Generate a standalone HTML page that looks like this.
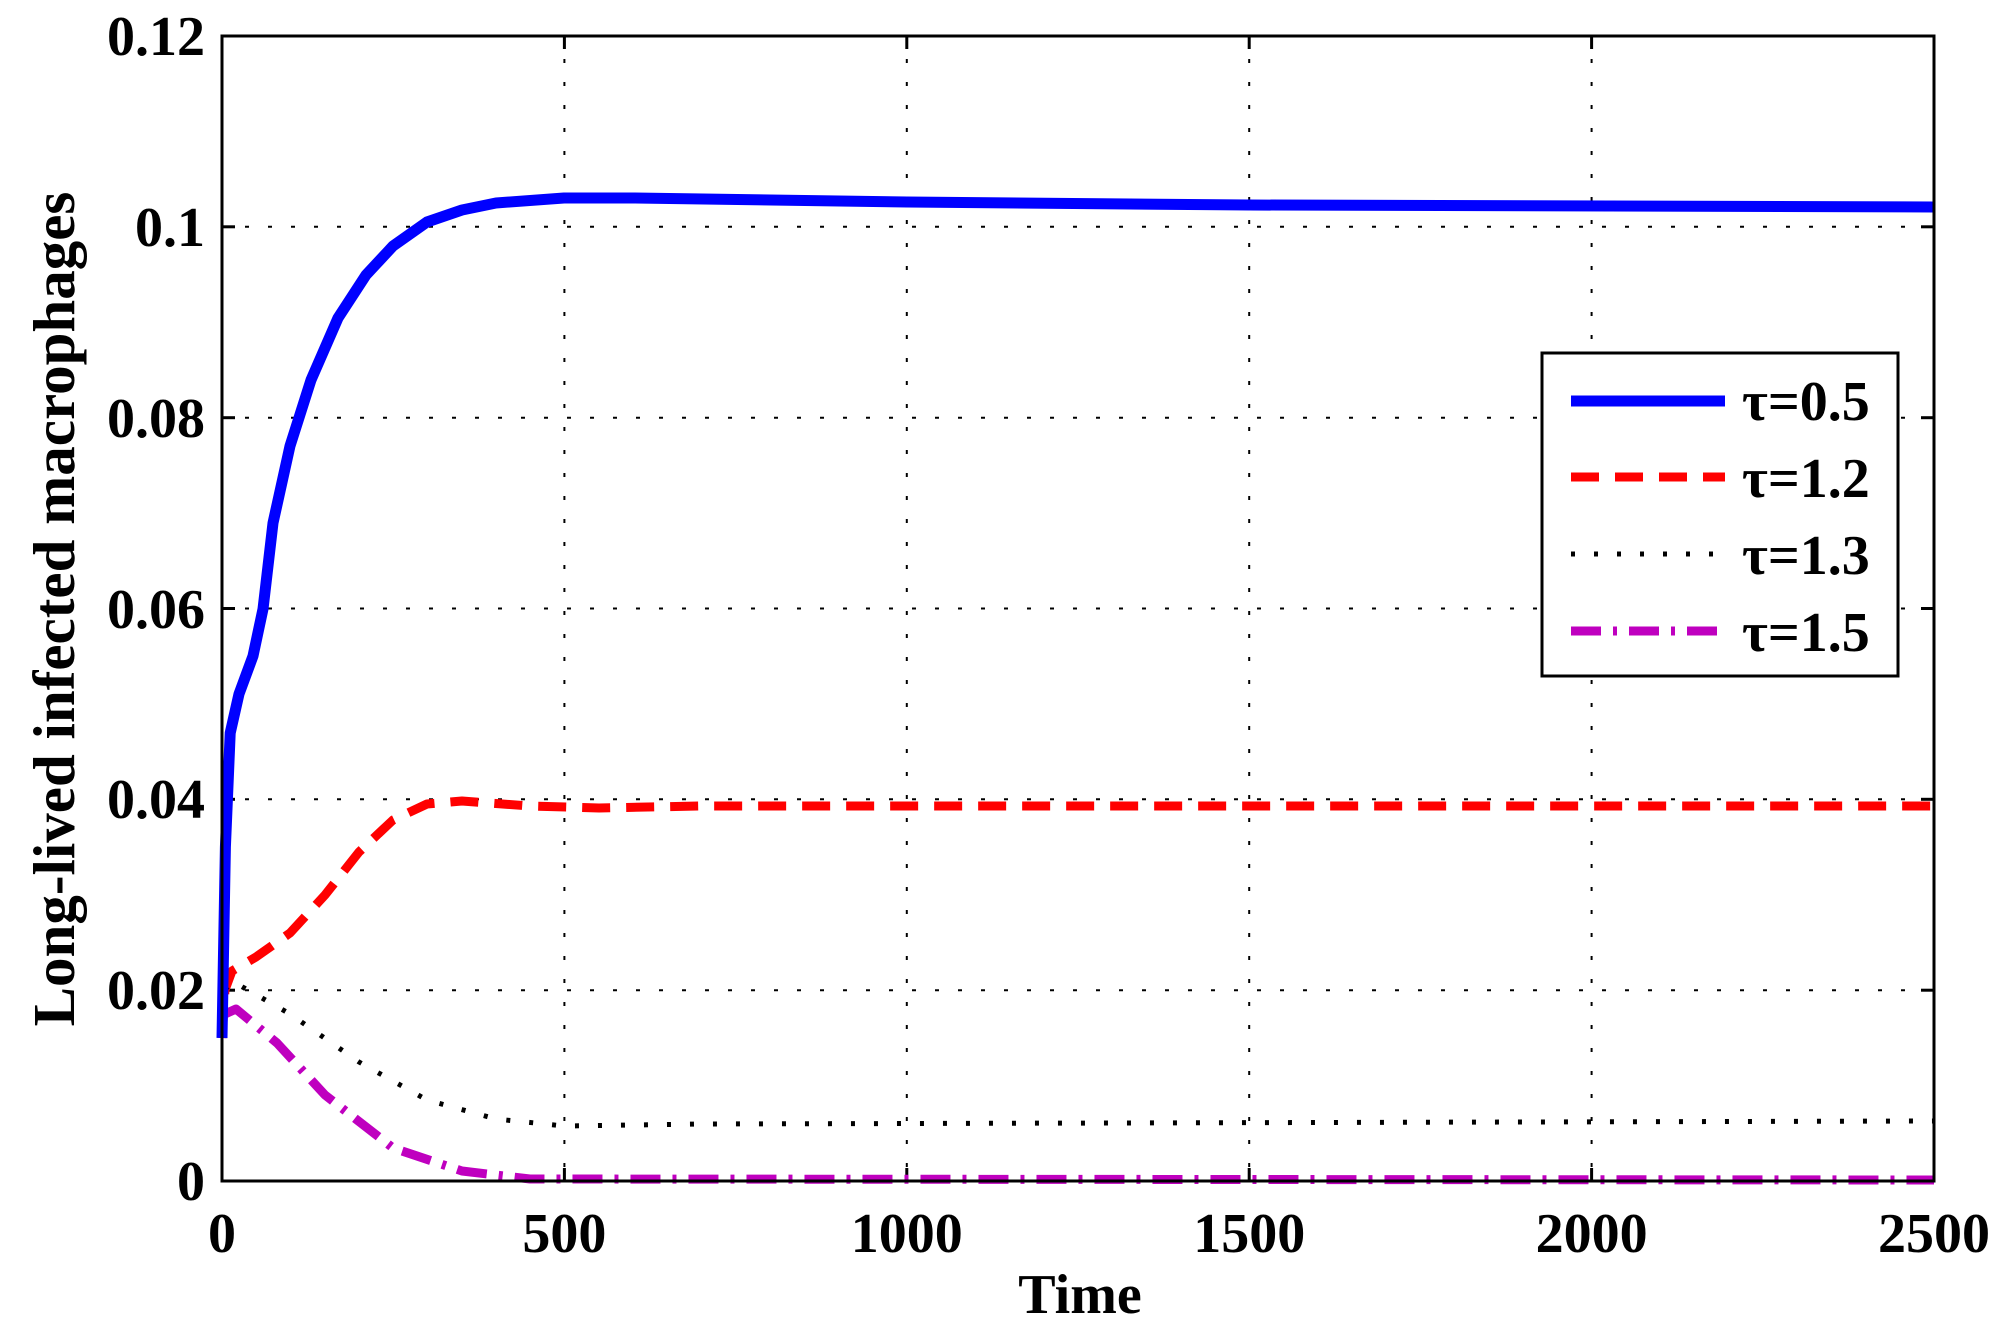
<!DOCTYPE html>
<html><head><meta charset="utf-8"><style>
html,body{margin:0;padding:0;background:#fff;}
svg{display:block;}
text{font-family:"Liberation Serif",serif;font-weight:bold;fill:#000;}
</style></head><body>
<svg width="2011" height="1339" viewBox="0 0 2011 1339" xmlns="http://www.w3.org/2000/svg">
<rect width="2011" height="1339" fill="#fff"/>
<g stroke="#000" stroke-width="2" stroke-dasharray="4 19">
<line x1="564.4" y1="36" x2="564.4" y2="1181"/>
<line x1="906.8" y1="36" x2="906.8" y2="1181"/>
<line x1="1249.2" y1="36" x2="1249.2" y2="1181"/>
<line x1="1591.6" y1="36" x2="1591.6" y2="1181"/>
<line x1="222" y1="990.2" x2="1934" y2="990.2"/>
<line x1="222" y1="799.3" x2="1934" y2="799.3"/>
<line x1="222" y1="608.5" x2="1934" y2="608.5"/>
<line x1="222" y1="417.7" x2="1934" y2="417.7"/>
<line x1="222" y1="226.8" x2="1934" y2="226.8"/>
</g>
<g stroke="#000" stroke-width="3">
<line x1="564.4" y1="1181" x2="564.4" y2="1168"/><line x1="564.4" y1="36" x2="564.4" y2="49"/>
<line x1="906.8" y1="1181" x2="906.8" y2="1168"/><line x1="906.8" y1="36" x2="906.8" y2="49"/>
<line x1="1249.2" y1="1181" x2="1249.2" y2="1168"/><line x1="1249.2" y1="36" x2="1249.2" y2="49"/>
<line x1="1591.6" y1="1181" x2="1591.6" y2="1168"/><line x1="1591.6" y1="36" x2="1591.6" y2="49"/>
<line x1="222" y1="990.2" x2="235" y2="990.2"/><line x1="1934" y1="990.2" x2="1921" y2="990.2"/>
<line x1="222" y1="799.3" x2="235" y2="799.3"/><line x1="1934" y1="799.3" x2="1921" y2="799.3"/>
<line x1="222" y1="608.5" x2="235" y2="608.5"/><line x1="1934" y1="608.5" x2="1921" y2="608.5"/>
<line x1="222" y1="417.7" x2="235" y2="417.7"/><line x1="1934" y1="417.7" x2="1921" y2="417.7"/>
<line x1="222" y1="226.8" x2="235" y2="226.8"/><line x1="1934" y1="226.8" x2="1921" y2="226.8"/>
</g>
<g fill="none" stroke-linejoin="round">
<polyline stroke="#ff0000" stroke-width="9" stroke-dasharray="28 16" points="222,1038 225,990 232,971 256,957 290,933 325,895 359,852 393,820 427,804 462,801 530,806 599,808 701,806 1934,806"/>
<polyline stroke="#000" stroke-width="5" stroke-dasharray="4 19" points="225,990 232,981 290,1014 359,1062 427,1100 496,1119 564,1126 701,1124 1934,1121"/>
<polyline stroke="#bf00bf" stroke-width="9" stroke-dasharray="30 12 4 12" points="225,1014 236,1009 277,1043 325,1095 393,1148 462,1171 530,1179 1934,1180"/>
<polyline stroke="#0000ff" stroke-width="11" points="222,1038 225.4,847 230.2,733 239,694 253,656 263,609 273,523 290,446 311,380 338,318 366,275 393,246 427,222 462,210 496,203 564,198 633,198 907,202 1249,205 1934,207"/>
</g>
<rect x="222" y="36" width="1712" height="1145" fill="none" stroke="#000" stroke-width="3"/>
<g font-size="56" text-anchor="end">
<text x="205" y="1200">0</text>
<text x="205" y="1009">0.02</text>
<text x="205" y="818">0.04</text>
<text x="205" y="628">0.06</text>
<text x="205" y="437">0.08</text>
<text x="205" y="246">0.1</text>
<text x="205" y="55">0.12</text>
</g>
<g font-size="56" text-anchor="middle">
<text x="222" y="1252">0</text>
<text x="564.4" y="1252">500</text>
<text x="906.8" y="1252">1000</text>
<text x="1249.2" y="1252">1500</text>
<text x="1591.6" y="1252">2000</text>
<text x="1934" y="1252">2500</text>
<text x="1080" y="1313">Time</text>
<text transform="translate(74,609) rotate(-90)" font-size="59">Long-lived infected macrophages</text>
</g>
<rect x="1542" y="353" width="356" height="323" fill="#fff" stroke="#000" stroke-width="3"/>
<line x1="1571" y1="401" x2="1725" y2="401" stroke="#0000ff" stroke-width="11"/>
<line x1="1571" y1="477" x2="1725" y2="477" stroke="#ff0000" stroke-width="9" stroke-dasharray="28 16"/>
<line x1="1571" y1="554" x2="1725" y2="554" stroke="#000" stroke-width="5" stroke-dasharray="4 19"/>
<line x1="1571" y1="631" x2="1725" y2="631" stroke="#bf00bf" stroke-width="9" stroke-dasharray="30 12 4 12"/>
<g font-size="56">
<text x="1742" y="420">τ=0.5</text>
<text x="1742" y="497">τ=1.2</text>
<text x="1742" y="574">τ=1.3</text>
<text x="1742" y="651">τ=1.5</text>
</g>
</svg>
</body></html>
